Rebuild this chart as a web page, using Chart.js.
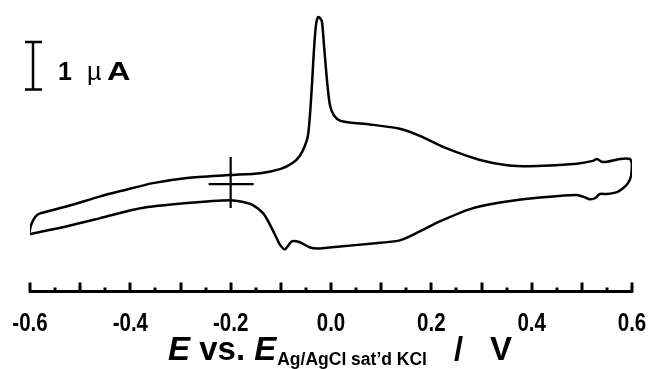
<!DOCTYPE html>
<html>
<head>
<meta charset="utf-8">
<script src="https://cdn.jsdelivr.net/npm/chart.js@4.4.1/dist/chart.umd.min.js"></script>
<style>
  body { margin: 0; background: #fff; }
  canvas { display: block; }
</style>
</head>
<body>
<canvas id="cvChart" width="654" height="369"></canvas>
<script>
// potensial (V vs Ag/AgCl) dan arus (uA), sapuan anodik: kiri -> kanan
const anodicE = [-0.602, -0.598, -0.590, -0.580, -0.526, -0.460, -0.420, -0.355, -0.287, -0.201,
  -0.141, -0.100, -0.076, -0.062, -0.052, -0.046, -0.042, -0.038, -0.034, -0.030,
  -0.026, -0.022, -0.018, -0.014, -0.008, -0.002, 0.006, 0.018, 0.038, 0.078,
  0.137, 0.177, 0.227, 0.297, 0.351, 0.410, 0.490, 0.522, 0.530, 0.540,
  0.550, 0.576, 0.596, 0.600];
const anodicI = [-1.06, -0.87, -0.70, -0.62, -0.47, -0.26, -0.15, 0.02, 0.13, 0.19,
  0.23, 0.32, 0.45, 0.60, 0.81, 1.02, 1.45, 2.09, 2.83, 3.36,
  3.53, 3.51, 3.43, 2.94, 2.19, 1.66, 1.45, 1.34, 1.30, 1.26,
  1.17, 1.02, 0.77, 0.51, 0.40, 0.38, 0.43, 0.49, 0.53, 0.47,
  0.47, 0.53, 0.53, 0.43];

// sapuan katodik: kanan -> kiri
const cathodicE = [0.600, 0.598, 0.592, 0.582, 0.570, 0.550, 0.536, 0.526, 0.516, 0.506,
  0.490, 0.402, 0.331, 0.277, 0.217, 0.177, 0.137, 0.078, 0.018, -0.022,
  -0.042, -0.062, -0.078, -0.092, -0.102, -0.108, -0.122, -0.135, -0.155, -0.175,
  -0.201, -0.287, -0.380, -0.460, -0.526, -0.602];
const cathodicI = [0.43, 0.17, 0.02, -0.09, -0.17, -0.21, -0.21, -0.30, -0.32, -0.28,
  -0.23, -0.30, -0.40, -0.53, -0.79, -1.00, -1.19, -1.26, -1.32, -1.36,
  -1.34, -1.23, -1.21, -1.38, -1.28, -1.15, -0.85, -0.62, -0.45, -0.38,
  -0.34, -0.40, -0.51, -0.72, -0.89, -1.06];

// label sumbu x
const tickLabels = ['-0.6', '-0.4', '-0.2', '0.0', '0.2', '0.4', '0.6'];

const FONT = "'Liberation Sans', Arial, sans-serif";

function toPoints(xs, ys) {
  return xs.map((x, i) => ({ x: x, y: ys[i] }));
}

// tick kecil ke atas, label tick (huruf sempit), skala 1 uA, tanda silang nol, judul sumbu
const decorPlugin = {
  id: 'decor',
  afterDraw(chart) {
    const ctx = chart.ctx;
    const xs = chart.scales.x;
    const ys = chart.scales.y;
    const base = xs.top + 1.5;
    ctx.save();
    ctx.strokeStyle = '#000';
    ctx.fillStyle = '#000';
    ctx.lineWidth = 3;
    ctx.lineCap = 'butt';

    // tick mark setiap 0.05 V
    for (let k = 0; k <= 24; k++) {
      const v = -0.6 + k * 0.05;
      const px = Math.round(xs.getPixelForValue(v));
      const len = k % 2 === 0 ? 10 : 5;
      ctx.beginPath();
      ctx.moveTo(px, base);
      ctx.lineTo(px, base - len);
      ctx.stroke();
    }

    // label tick dari tick milik skala
    ctx.font = 'bold 25px ' + FONT;
    ctx.textAlign = 'center';
    ctx.textBaseline = 'alphabetic';
    xs.ticks.forEach((t, i) => {
      const px = xs.getPixelForTick(i);
      ctx.save();
      ctx.translate(px, 331);
      ctx.scale(0.82, 1);
      ctx.fillText(tickLabels[i], 0, 0);
      ctx.restore();
    });
    ctx.textAlign = 'left';

    // batang skala 1 uA
    const bx = xs.getPixelForValue(-0.594);
    const yTop = ys.getPixelForValue(3);
    const yBot = ys.getPixelForValue(2);
    ctx.lineWidth = 2.5;
    ctx.beginPath();
    ctx.moveTo(bx, yTop); ctx.lineTo(bx, yBot);
    ctx.moveTo(bx - 8, yTop); ctx.lineTo(bx + 9, yTop);
    ctx.moveTo(bx - 8, yBot); ctx.lineTo(bx + 9, yBot);
    ctx.stroke();

    ctx.font = 'bold 25px ' + FONT;
    ctx.fillText('1', 58, 80);
    ctx.font = '25px ' + FONT;
    ctx.fillText('\u00b5', 87, 80);
    ctx.save();
    ctx.translate(107, 80);
    ctx.scale(1.3, 1);
    ctx.font = 'bold 25px ' + FONT;
    ctx.fillText('A', 0, 0);
    ctx.restore();

    // tanda silang di E = -0.2 V, I = 0
    const cx = xs.getPixelForValue(-0.2);
    const cy = ys.getPixelForValue(0);
    ctx.lineWidth = 2.2;
    ctx.beginPath();
    ctx.moveTo(cx, cy - 27); ctx.lineTo(cx, cy + 24);
    ctx.moveTo(cx - 22, cy); ctx.lineTo(cx + 23, cy);
    ctx.stroke();

    // judul sumbu x
    let x = 168;
    const y = 360;
    ctx.font = 'italic bold 33px ' + FONT;
    ctx.fillText('E', x, y);
    x += ctx.measureText('E').width;
    ctx.font = 'bold 33px ' + FONT;
    ctx.fillText(' vs. ', x, y);
    x += ctx.measureText(' vs. ').width;
    ctx.font = 'italic bold 33px ' + FONT;
    ctx.fillText('E', x, y);
    x += ctx.measureText('E').width + 1;
    ctx.font = 'bold 17.5px ' + FONT;
    ctx.fillText('Ag/AgCl sat\u2019d KCl', x, y + 5);
    ctx.font = 'bold 33px ' + FONT;
    ctx.fillText('/', 454, y);
    ctx.fillText('V', 490, y);
    ctx.restore();
  }
};

function initChart() {
  const cvCtx = document.getElementById('cvChart');
  new Chart(cvCtx, {
    type: 'scatter',
    data: {
      datasets: [{
        label: 'anodik',
        data: toPoints(anodicE, anodicI),
        showLine: true,
        borderColor: '#000',
        borderWidth: 2.5,
        pointRadius: 0,
        tension: 0.25
      }, {
        label: 'katodik',
        data: toPoints(cathodicE, cathodicI),
        showLine: true,
        borderColor: '#000',
        borderWidth: 2.5,
        pointRadius: 0,
        tension: 0.25
      }]
    },
    options: {
      responsive: false,
      animation: false,
      layout: { padding: { left: 30, right: 22, top: 0, bottom: 0 } },
      plugins: {
        legend: { display: false },
        tooltip: { enabled: false }
      },
      scales: {
        x: {
          type: 'linear',
          min: -0.6,
          max: 0.6,
          afterFit(scale) {
            scale.height = 78;
            scale.paddingLeft = 0;
            scale.paddingRight = 0;
          },
          grid: { drawOnChartArea: false, drawTicks: false },
          border: { display: true, color: '#000', width: 3 },
          ticks: {
            stepSize: 0.2,
            display: false
          }
        },
        y: {
          display: false,
          min: -2.26,
          max: 3.89
        }
      }
    },
    plugins: [decorPlugin]
  });
}

initChart();
</script>
</body>
</html>
